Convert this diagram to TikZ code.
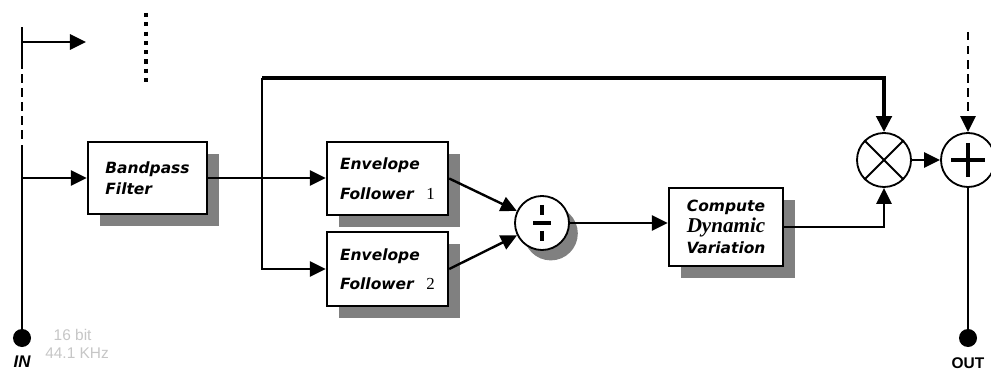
\documentclass[tikz,border=0pt]{standalone}
\usepackage{fontspec}
\setmainfont{DejaVu Sans}
\newfontfamily\numfont{Liberation Serif}
\newfontfamily\labelfont{Liberation Sans}
\usetikzlibrary{positioning, arrows.meta, shadows}

\begin{document}
\begin{tikzpicture}[
  x=0.025cm, y=-0.025cm,
  >={Triangle[length=0.4cm, width=0.38cm]},
  wire/.style={line width=1.7pt},
  heavy/.style={line width=3.4pt},
  dashwire/.style={line width=1.7pt, dash pattern=on 6pt off 4pt},
  dots/.style={line width=2.8pt, dash pattern=on 3pt off 3.6pt},
  block/.style={draw, line width=1.7pt, fill=white, inner sep=0pt, align=left,
    font=\fontsize{11}{15}\selectfont\bfseries\itshape,
    drop shadow={shadow xshift=0.3cm, shadow yshift=-0.3cm, fill=gray, opacity=1}},
  junction/.style={circle, draw, line width=1.3pt, fill=white, minimum size=1.35cm, inner sep=0pt},
  symbol/.style={line width=3pt},
  terminal/.style={circle, fill, minimum size=0.45cm, inner sep=0pt},
  num/.style={font=\numfont\mdseries\upshape\fontsize{12}{12}\selectfont}
]
\useasboundingbox (0,0) rectangle (991,372);

% --- Nodes ---
\node[terminal] (in) at (22,338) {};
\node[font=\labelfont\bfseries\itshape\fontsize{12}{12}\selectfont] (inlabel) at (22,362) {IN};
\node[anchor=west, inner sep=0pt, align=left, text=gray!45,
  font=\labelfont\fontsize{11}{13}\selectfont] (rate) at (45,344) {\hspace*{6pt}16 bit\\44.1 KHz};

\node[block, minimum width=2.975cm, minimum height=1.8cm] (bpf) at (147.5,178) {Bandpass\\Filter};

\node[block, minimum width=3.025cm, minimum height=1.825cm] (env1) at (387.5,178.5)
  {Envelope\\[6pt]Follower\hspace{9pt}{\numfont\mdseries\upshape\fontsize{12}{12}\selectfont 1}};
\node[block, minimum width=3.025cm, minimum height=1.85cm] (env2) at (387.5,269)
  {Envelope\\[6pt]Follower\hspace{9pt}{\numfont\mdseries\upshape\fontsize{12}{12}\selectfont 2}};

\node[junction, drop shadow={shadow xshift=0.22cm, shadow yshift=-0.26cm, fill=gray, opacity=1}] (ratio) at (542,223) {};

\node[block, align=center, minimum width=2.85cm, minimum height=1.95cm] (dyn) at (726,227)
  {Compute\\{\numfont\fontsize{15}{15}\selectfont Dynamic}\\Variation};

\node[junction] (mult) at (884,160) {};
\node[junction] (sum) at (968,160) {};

\node[terminal] (out) at (968,338) {};
\node[font=\labelfont\bfseries\fontsize{11}{11}\selectfont] (outlabel) at (968,363) {OUT};

% --- Coordinates ---
\coordinate (intop) at (22,27);
\coordinate (gaptop) at (22,67);
\coordinate (gapbot) at (22,153);
\coordinate (tick) at (22,42);
\coordinate (tickend) at (86,42);
\coordinate (dottop) at (146,13);
\coordinate (dotbot) at (146,82);
\coordinate (branch) at (262,178);
\coordinate (topl) at (262,78);
\coordinate (sumtop) at (968,32);

% --- Input side ---
\draw[wire] (in) -- (gapbot);
\draw[dashwire] (gapbot) -- (gaptop);
\draw[wire] (gaptop) -- (intop);
\draw[wire, ->] (tick) -- (tickend);
\draw[dots] (dottop) -- (dotbot);
\draw[wire, ->] (in |- bpf) -- (bpf);

% --- Edges ---
\draw[wire, ->] (bpf.east) -- (bpf.east -| env1.west);
\draw[wire, ->] (topl) |- (env2);
\draw[heavy, ->] (topl) -| (mult);

\draw[wire, ->] (env1.east) -- (ratio);
\draw[wire, ->] (env2.east) -- (ratio);
\draw[wire, ->] (ratio) -- (ratio -| dyn.west);
\draw[wire, ->] (dyn.east) -| (mult);

\draw[wire, ->] (mult) -- (sum);
\draw[dashwire, ->] (sumtop) -- (sum);
\draw[wire] (sum) -- (out);

% --- Symbols ---
\draw[symbol] (ratio.center) ++(-9,0) -- ++(18,0);
\draw[symbol] (ratio.center) ++(0,-18) -- ++(0,10);
\draw[symbol] (ratio.center) ++(0,8) -- ++(0,10);

\draw[line width=1.3pt] (mult.north west) -- (mult.south east);
\draw[line width=1.3pt] (mult.north east) -- (mult.south west);

\draw[symbol, line width=3.4pt] (sum.center) ++(-17,0) -- ++(34,0);
\draw[symbol, line width=3.4pt] (sum.center) ++(0,-17) -- ++(0,34);

\end{tikzpicture}
\end{document}
